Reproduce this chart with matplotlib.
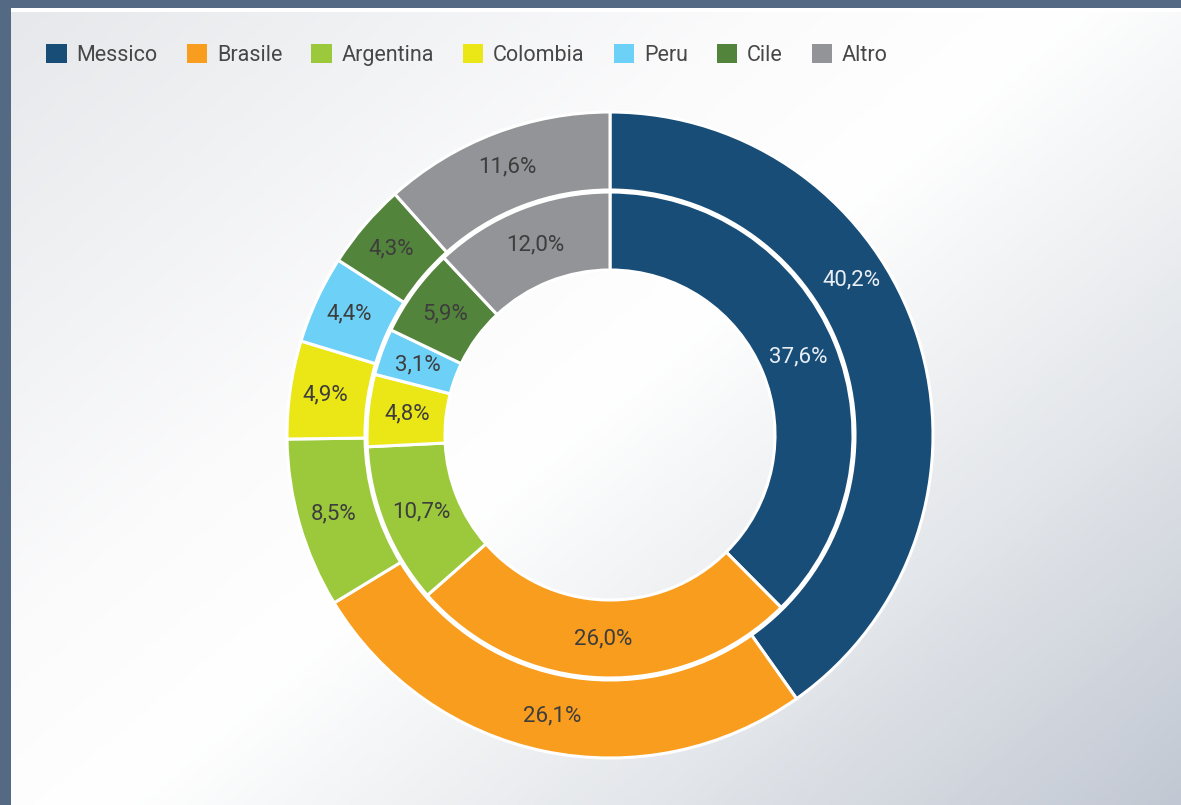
import numpy as np
import matplotlib
matplotlib.use("Agg")
import matplotlib.pyplot as plt
from matplotlib.colors import LinearSegmentedColormap
from matplotlib.patches import Patch, Rectangle

plt.rcParams['font.family'] = ['Roboto', 'DejaVu Sans']

categories = ["Messico", "Brasile", "Argentina", "Colombia", "Peru", "Cile", "Altro"]
outer_values = [40.2, 26.1, 8.5, 4.9, 4.4, 4.3, 11.6]
inner_values = [37.6, 26.0, 10.7, 4.8, 3.1, 5.9, 12.0]
outer_labels = ["40,2%", "26,1%", "8,5%", "4,9%", "4,4%", "4,3%", "11,6%"]
inner_labels = ["37,6%", "26,0%", "10,7%", "4,8%", "3,1%", "5,9%", "12,0%"]
colors = ["#184d77", "#f99d1e", "#9bc93b", "#ebe615", "#6cd0f7", "#53843b", "#939498"]
label_colors = ["#e9eef4", "#3d3d3d", "#3d3d3d", "#3d3d3d", "#3d3d3d", "#3d3d3d", "#3d3d3d"]

W, H = 1181, 805
fig = plt.figure(figsize=(W / 100, H / 100), dpi=100)
fig.patch.set_facecolor("#546a84")

# background panel with diagonal gradient
bg = fig.add_axes([11 / W, 0, (W - 11) / W, (H - 8) / H])
bg.set_axis_off()
ny, nx = 200, 300
yy, xx = np.mgrid[0:1:ny * 1j, 0:1:nx * 1j]
t = (xx * 0.55 + yy * 0.45)
cmap = LinearSegmentedColormap.from_list(
    "bg", [(0.0, "#e6e8eb"), (0.35, "#fbfbfc"), (0.5, "#ffffff"), (0.75, "#e3e6ea"), (1.0, "#c2c8d3")])
bg.imshow(t, cmap=cmap, aspect="auto", extent=[0, 1, 0, 1], origin="upper", vmin=0, vmax=1)
bg.add_patch(Rectangle((0, 1 - 4 / 797), 1, 4 / 797, facecolor="white", edgecolor="none"))
bg.set_xlim(0, 1)
bg.set_ylim(0, 1)

# donut axes
cx, cy, R = 610, 435, 323
ax = fig.add_axes([(cx - R) / W, (H - cy - R) / H, 2 * R / W, 2 * R / H])
ax.set_axis_off()

ring_w = 78 / R
inner_R = 243 / R

wedges_o, _ = ax.pie(outer_values, radius=1.0, colors=colors, startangle=90, counterclock=False,
                     wedgeprops=dict(width=ring_w, edgecolor="white", linewidth=2.2))
wedges_i, _ = ax.pie(inner_values, radius=inner_R, colors=colors, startangle=90, counterclock=False,
                     wedgeprops=dict(width=ring_w, edgecolor="white", linewidth=2.2))
ax.set_xlim(-1, 1)
ax.set_ylim(-1, 1)

def put_labels(wedges, labels, r, angle_shift=None):
    angle_shift = angle_shift or {}
    for i, (w, lab, c) in enumerate(zip(wedges, labels, label_colors)):
        ang = np.deg2rad((w.theta1 + w.theta2) / 2 + angle_shift.get(i, 0))
        ax.text(r * np.cos(ang), r * np.sin(ang), lab, ha="center", va="center",
                fontsize=16, color=c)

put_labels(wedges_o, outer_labels, 1.0 - ring_w / 2 + 0.01, angle_shift={0: 15})
put_labels(wedges_i, inner_labels, inner_R - ring_w / 2)

handles = [Patch(facecolor=c, edgecolor="none") for c in colors]
leg = fig.legend(handles, categories, loc="center left", bbox_to_anchor=(27 / W, 1 - 55 / H),
                 ncol=7, frameon=False, fontsize=15.5, handlelength=0.95, handleheight=0.95,
                 handletextpad=0.45, columnspacing=1.35, labelcolor="#474747")

fig.savefig("out.png", dpi=100)
